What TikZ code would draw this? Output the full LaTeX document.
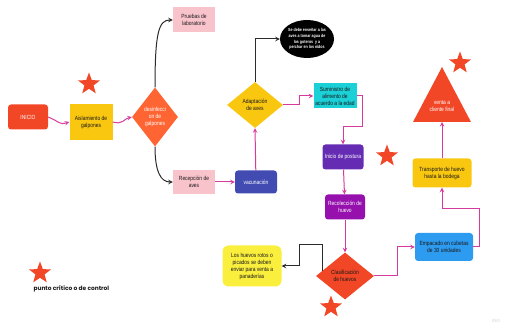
\documentclass[tikz,border=0pt]{standalone}
\usepackage{fontspec}
\setmainfont{Liberation Sans}[FakeStretch=0.82]
\newfontfamily\legendfont{Poppins}
\usetikzlibrary{positioning, arrows, shapes.geometric, calc}

\definecolor{critred}{HTML}{F24726}
\definecolor{desinforange}{HTML}{FF6533}
\definecolor{miroyellow}{HTML}{FAC710}
\definecolor{pinkbox}{HTML}{F9C3CC}
\definecolor{vacblue}{HTML}{414BB2}
\definecolor{cyanbox}{HTML}{1BD0D6}
\definecolor{posturapurple}{HTML}{652CB3}
\definecolor{recolpurple}{HTML}{9510AC}
\definecolor{lightyellow}{HTML}{FBEF3E}
\definecolor{empacablue}{HTML}{2D9BF0}
\definecolor{flowpink}{HTML}{D63A9C}
\definecolor{linkgray}{HTML}{2B2B2B}
\definecolor{textdark}{HTML}{1A1A1A}

\begin{document}
\begin{tikzpicture}[x=1pt, y=-1pt, font=\fontsize{6}{7}\selectfont]

	\tikzstyle{box}=[align=center, inner sep=1pt, text=textdark]
	\tikzstyle{rbox}=[box, rounded corners=3pt]
	\tikzstyle{decision}=[diamond, align=center, inner sep=0pt, text=textdark]
	\tikzstyle{critstar}=[star, star points=5, star point ratio=2.4, fill=critred, minimum size=23pt, inner sep=0pt]
	\tikzstyle{flow}=[-stealth, draw=flowpink, line width=1pt]
	\tikzstyle{link}=[-stealth, draw=linkgray, line width=1pt]

	\useasboundingbox (0,0) rectangle (507,326);

	\node[rbox, fill=critred, text=white, minimum width=40pt, minimum height=25pt] (inicio) at (28,117) {INICIO};
	\node[box, fill=miroyellow, minimum width=43pt, minimum height=36pt] (aisla) at (91,122) {Aislamiento de\\galpones};
	\node[decision, fill=desinforange, text=white, minimum width=46pt, minimum height=59pt] (desinf) at (155,117) {desinfecci\\on de\\galpones};

	\node[box, fill=pinkbox, minimum width=42pt, minimum height=25pt] (pruebas) at (194,20) {Pruebas de\\laboratorio};
	\node[box, fill=pinkbox, minimum width=42pt, minimum height=24pt] (recep) at (194,182) {Recepción de\\aves};
	\node[rbox, fill=vacblue, text=white, minimum width=42pt, minimum height=23pt] (vacuna) at (256,182) {vacunación};

	\node[decision, fill=miroyellow, minimum width=56pt, minimum height=46pt] (adapt) at (255,105) {Adaptación\\de aves};
	\node[ellipse, fill=black, text=white, align=center, inner sep=0pt, minimum width=54pt, minimum height=38pt, font=\bfseries\fontsize{4.4}{5.8}\selectfont] (ense) at (307,39) {Se debe enseñar a las\\aves a tomar agua de\\los goteros \ y a\\perchar en los nidos};
	\node[box, fill=cyanbox, minimum width=43pt, minimum height=25pt] (sumin) at (335,96) {Suministro de\\alimento de\\acuerdo a la edad};

	\node[rbox, fill=posturapurple, text=white, minimum width=41pt, minimum height=25pt] (postura) at (343,157) {Inicio de postura};
	\node[rbox, fill=recolpurple, text=white, minimum width=40pt, minimum height=25pt] (recol) at (345,207) {Recolección de\\huevo};
	\node[decision, fill=critred, minimum width=58pt, minimum height=47pt] (clasif) at (345,276) {Clasificación\\de huevos};
	\node[rbox, fill=lightyellow, minimum width=59pt, minimum height=41pt, rounded corners=6pt] (rotos) at (252,266) {Los huevos rotos o\\picados se deben\\enviar para venta a\\panaderías};

	\node[rbox, fill=empacablue, minimum width=58pt, minimum height=28pt] (empaca) at (444,247) {Empacado en cubetas\\de 30 unidades};
	\node[rbox, fill=miroyellow, minimum width=59pt, minimum height=29pt] (transp) at (442,173) {Transporte de huevo\\hasta la bodega};

	% venta a cliente final
	\fill[critred] (413,122) -- (442,67) -- (471,122) -- cycle;
	\node[text=white, align=center] (venta) at (442,106) {venta a\\cliente final};
	\coordinate (ventab) at (442,122);

	% puntos criticos
	\node[critstar] (stara) at (89,84) {};
	\node[critstar] (starb) at (387,156) {};
	\node[critstar] (starc) at (331,307) {};
	\node[critstar] (stard) at (460,63) {};

	% connectors
	\draw[flow] (inicio.east) .. controls +(12,5) and +(-10,3) .. (aisla.west);
	\draw[flow] (aisla.east) .. controls +(10,3) and +(-8,2) .. (desinf.west);
	\draw[link] (desinf.north) .. controls +(0,-55) and +(-14,0) .. (pruebas.west);
	\draw[link] (desinf.south) .. controls +(0,25) and +(-12,0) .. (recep.west);
	\draw[flow] (recep) -- (vacuna);
	\draw[flow] (vacuna) -- (adapt.south);
	\draw[link] (adapt.north) |- (ense.west);
	\draw[flow] (adapt.east) -- ++(16,0) |- (sumin.west);
	\draw[flow] (sumin.east) -- ++(6,0) -- ++(0,31) -| (postura.north);
	\draw[flow] (postura) -- (recol);
	\draw[flow] (recol) -- (clasif.north);
	\draw[link] ($(clasif.west)!0.22!(clasif.north)$) |- (299,245) |- (rotos.east);
	\draw[flow] (clasif.east) -- ++(23,0) |- (empaca.west);
	\draw[flow] (empaca.east) -- ++(6,0) -- ++(0,-38) -| (transp.south);
	\draw[flow] (transp) -- (ventab);

	% legend
	\node[critstar] (legend_star) at (40,273) {};
	\node[font=\legendfont\bfseries\fontsize{5.9}{7}\selectfont, text=textdark, anchor=west] (legend_txt) at (30,289) {punto crítico o de control};

	\node[text=gray!35, font=\fontsize{5}{6}\selectfont] (miro) at (496,321) {miro};

\end{tikzpicture}
\end{document}
